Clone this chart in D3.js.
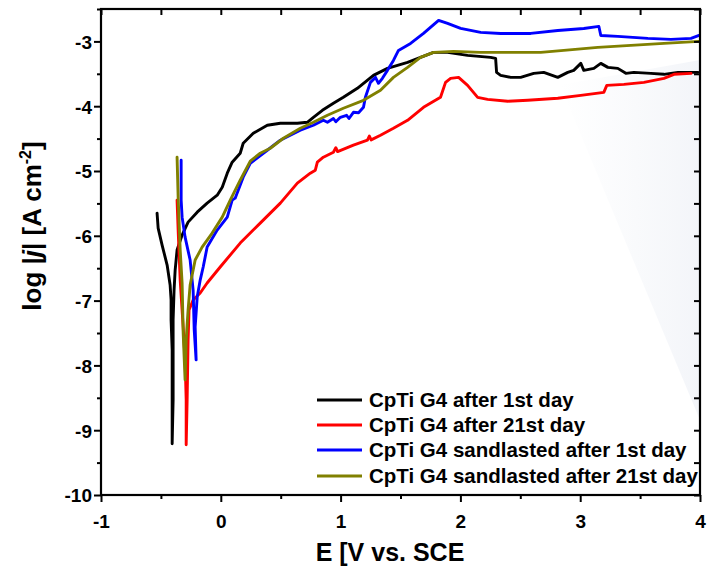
<!DOCTYPE html>
<html><head><meta charset="utf-8">
<script src="https://cdn.jsdelivr.net/npm/d3@7"></script>
<style>html,body{margin:0;padding:0;background:#fff;}svg{display:block;font-family:"Liberation Sans",Arial,sans-serif;font-weight:bold;}</style>
</head><body><svg id="c" width="708" height="566"></svg>
<script>
const seriesNames = ["CpTi G4 after 1st day","CpTi G4 after 21st day","CpTi G4 sandlasted after 1st day","CpTi G4 sandlasted after 21st day"];
const seriesColors = ["#000000","#ff0000","#0000ff","#808000"];
const xTicks = [-1,0,1,2,3,4];
const yTicks = [-10,-9,-8,-7,-6,-5,-4,-3];

const black = [[-0.532,-5.650],[-0.523,-5.881],[-0.490,-6.143],[-0.448,-6.451],[-0.423,-6.760],[-0.415,-6.991],[-0.415,-7.299],[-0.406,-7.761],[-0.406,-8.532],[-0.406,-9.210],[-0.398,-8.532],[-0.398,-7.299],[-0.390,-6.837],[-0.381,-6.529],[-0.365,-6.220],[-0.323,-5.989],[-0.273,-5.789],[-0.197,-5.635],[-0.114,-5.496],[-0.030,-5.373],[0.012,-5.250],[0.054,-5.034],[0.095,-4.864],[0.162,-4.726],[0.187,-4.572],[0.271,-4.418],[0.388,-4.294],[0.497,-4.263],[0.639,-4.263],[0.722,-4.248],[0.773,-4.171],[0.848,-4.063],[0.940,-3.955],[1.023,-3.863],[1.140,-3.724],[1.274,-3.524],[1.391,-3.416],[1.559,-3.324],[1.667,-3.247],[1.776,-3.169],[1.893,-3.169],[2.060,-3.216],[2.252,-3.247],[2.294,-3.262],[2.302,-3.478],[2.336,-3.524],[2.420,-3.555],[2.503,-3.555],[2.612,-3.493],[2.696,-3.478],[2.813,-3.555],[2.896,-3.478],[2.946,-3.447],[3.005,-3.339],[3.030,-3.447],[3.114,-3.416],[3.172,-3.339],[3.231,-3.401],[3.314,-3.416],[3.381,-3.493],[3.448,-3.478],[3.590,-3.493],[3.699,-3.508],[3.816,-3.478],[3.983,-3.478]];
const red = [[-0.365,-5.450],[-0.356,-5.912],[-0.339,-6.683],[-0.314,-7.407],[-0.298,-7.915],[-0.289,-8.532],[-0.289,-9.225],[-0.281,-8.532],[-0.273,-7.607],[-0.265,-7.145],[-0.231,-6.991],[-0.172,-6.883],[-0.114,-6.729],[-0.005,-6.482],[0.162,-6.112],[0.329,-5.804],[0.497,-5.496],[0.639,-5.188],[0.747,-5.034],[0.789,-4.988],[0.806,-4.864],[0.856,-4.787],[0.940,-4.710],[0.960,-4.640],[0.975,-4.700],[1.107,-4.602],[1.224,-4.525],[1.240,-4.460],[1.255,-4.520],[1.333,-4.448],[1.441,-4.341],[1.559,-4.217],[1.692,-4.017],[1.834,-3.863],[1.876,-3.632],[1.918,-3.570],[1.985,-3.555],[2.060,-3.678],[2.144,-3.863],[2.227,-3.894],[2.395,-3.924],[2.562,-3.909],[2.813,-3.878],[3.005,-3.832],[3.197,-3.786],[3.222,-3.678],[3.365,-3.663],[3.532,-3.632],[3.699,-3.570],[3.783,-3.508],[3.925,-3.493]];
const blue = [[-0.331,-4.834],[-0.331,-5.450],[-0.323,-5.712],[-0.298,-6.020],[-0.256,-6.374],[-0.231,-6.837],[-0.222,-7.450],[-0.206,-7.915],[-0.214,-7.407],[-0.197,-6.945],[-0.172,-6.683],[-0.147,-6.482],[-0.114,-6.174],[-0.030,-5.912],[0.054,-5.712],[0.095,-5.450],[0.120,-5.419],[0.187,-5.096],[0.246,-4.880],[0.388,-4.680],[0.497,-4.525],[0.664,-4.371],[0.773,-4.294],[0.856,-4.217],[0.890,-4.248],[0.940,-4.190],[0.960,-4.240],[0.998,-4.171],[1.050,-4.140],[1.070,-4.190],[1.107,-4.094],[1.150,-4.100],[1.191,-4.017],[1.207,-3.863],[1.249,-3.632],[1.291,-3.555],[1.316,-3.647],[1.349,-3.570],[1.391,-3.447],[1.441,-3.293],[1.483,-3.139],[1.584,-3.031],[1.692,-2.877],[1.818,-2.676],[1.893,-2.723],[2.002,-2.800],[2.169,-2.861],[2.336,-2.877],[2.587,-2.877],[2.813,-2.831],[3.030,-2.800],[3.156,-2.769],[3.172,-2.908],[3.314,-2.923],[3.565,-2.954],[3.758,-2.969],[3.925,-2.954],[3.992,-2.908]];
const olive = [[-0.365,-4.787],[-0.356,-5.404],[-0.339,-6.220],[-0.323,-6.729],[-0.314,-7.499],[-0.298,-8.223],[-0.289,-7.607],[-0.273,-7.145],[-0.256,-6.760],[-0.214,-6.374],[-0.156,-6.174],[-0.072,-5.958],[0.012,-5.712],[0.079,-5.450],[0.162,-5.142],[0.246,-4.849],[0.329,-4.726],[0.413,-4.649],[0.522,-4.495],[0.664,-4.341],[0.773,-4.248],[0.890,-4.140],[1.023,-4.032],[1.191,-3.909],[1.333,-3.755],[1.441,-3.555],[1.559,-3.401],[1.667,-3.247],[1.776,-3.169],[1.943,-3.154],[2.169,-3.169],[2.445,-3.169],[2.671,-3.169],[2.863,-3.139],[3.147,-3.092],[3.423,-3.062],[3.699,-3.031],[3.992,-3.000]];
const seriesData = [black, red, blue, olive];

const svg = d3.select("#c");
const L = 101, R = 700, T = 9, B = 495;
const x = d3.scaleLinear().domain([-1,4]).range([L,R]);
const y = d3.scaleLinear().domain([-10,-2.5]).range([B,T]);

const defs = svg.append("defs");
defs.append("clipPath").attr("id","clip").append("rect")
  .attr("x",L).attr("y",T).attr("width",R-L).attr("height",B-T);
const grad = defs.append("linearGradient").attr("id","wash").attr("x1","0").attr("y1","0").attr("x2","1").attr("y2","0");
grad.append("stop").attr("offset","0").attr("stop-color","#f5f7fa").attr("stop-opacity",0);
grad.append("stop").attr("offset","1").attr("stop-color","#f3f5f9").attr("stop-opacity",1);

// faint background wash on the right side of the reference
svg.append("path").attr("d",`M560,85 L700,60 L700,420 Z`).attr("fill","url(#wash)");

const line = d3.line().x(d=>x(d[0])).y(d=>y(d[1])).curve(d3.curveLinear);
const lg = svg.append("g").attr("clip-path","url(#clip)");
seriesData.forEach((s,i)=>{
  lg.append("path").attr("d",line(s)).attr("fill","none")
    .attr("stroke",seriesColors[i]).attr("stroke-width",2.9)
    .attr("stroke-linejoin","round").attr("stroke-linecap","round");
});

// axes
const fmt = d=>String(d);
const minorX = d3.range(-1,4.01,0.5), minorY = d3.range(-10,-2.49,0.5);
const gb = svg.append("g").attr("transform",`translate(0,${B})`).call(d3.axisBottom(x).tickValues(xTicks).tickSize(7).tickFormat(fmt));
const gl = svg.append("g").attr("transform",`translate(${L},0)`).call(d3.axisLeft(y).tickValues(yTicks).tickSize(7).tickFormat(fmt));
svg.append("g").attr("transform",`translate(0,${B})`).call(d3.axisBottom(x).tickValues(minorX.filter(v=>!xTicks.includes(v))).tickSize(4).tickFormat(""));
svg.append("g").attr("transform",`translate(${L},0)`).call(d3.axisLeft(y).tickValues(minorY.filter(v=>!yTicks.includes(v))).tickSize(4).tickFormat(""));
svg.append("g").attr("transform",`translate(0,${T})`).call(d3.axisTop(x).tickValues(minorX).tickSize(-6).tickFormat(""));
svg.append("g").attr("transform",`translate(${R},0)`).call(d3.axisRight(y).tickValues(minorY).tickSize(-6).tickFormat(""));
svg.selectAll(".domain").remove();
svg.selectAll(".tick line").attr("stroke","#000").attr("stroke-width",2);
[gb,gl].forEach(g=>g.selectAll("text").attr("fill","#000").style("font-size","19px").style("font-weight","bold"));
gb.selectAll("text").attr("y",33).attr("dy",0);
gl.selectAll("text").attr("x",-9).attr("dy","0.36em");

svg.append("rect").attr("x",L).attr("y",T).attr("width",R-L).attr("height",B-T)
  .attr("fill","none").attr("stroke","#000").attr("stroke-width",2.2);

// axis titles
svg.append("text").attr("x",390).attr("y",561).attr("text-anchor","middle")
  .style("font-size","25px").text("E [V vs. SCE");
const yt = svg.append("text").attr("transform","translate(41,226) rotate(-90)").attr("text-anchor","middle").style("font-size","26px");
yt.append("tspan").text("log |");
yt.append("tspan").style("font-style","italic").text("j");
yt.append("tspan").text("| [A cm");
yt.append("tspan").attr("dy","-10").style("font-size","16px").text("-2");
yt.append("tspan").attr("dy","10").text("]");

// legend
const legY = [400,425,450,476];
seriesNames.forEach((n,i)=>{
  svg.append("line").attr("x1",317).attr("x2",362).attr("y1",legY[i]).attr("y2",legY[i])
    .attr("stroke",seriesColors[i]).attr("stroke-width",2.9);
  svg.append("text").attr("x",369).attr("y",legY[i]+7).style("font-size","20.5px").text(n);
});
</script></body></html>
